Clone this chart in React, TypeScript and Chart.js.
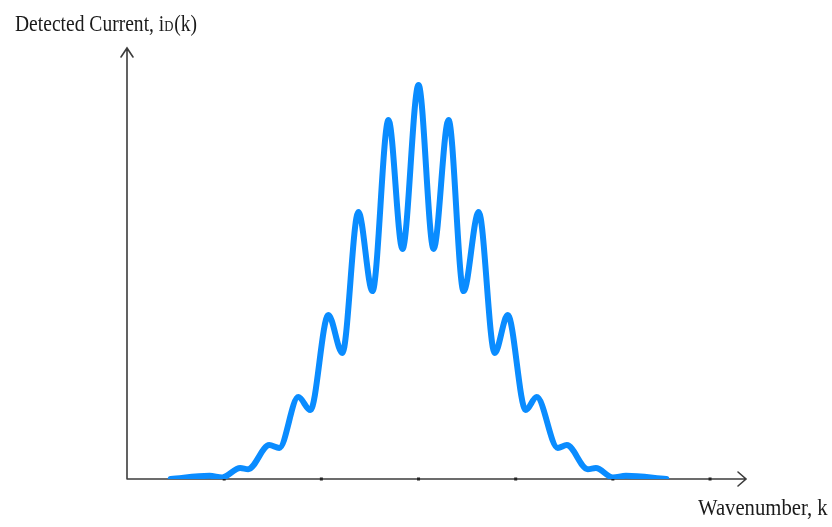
import React, { useEffect, useRef } from "react";
import { Chart, registerables } from "chart.js";

Chart.register(...registerables);

// Wavenumber positions (k) of the curve's turning points
const kValues = [
  0.45, 0.85, 0.98, 1.165, 1.247, 1.464, 1.567, 1.763, 1.887, 2.072, 2.216,
  2.381, 2.526, 2.691, 2.835, 3.0, 3.155, 3.309, 3.464, 3.619, 3.784, 3.918,
  4.103, 4.216, 4.433, 4.526, 4.742, 4.825, 5.0, 5.134, 5.55,
];
// Detected current (normalised) at those positions
const currentValues = [
  0.0, 0.008, 0.004, 0.028, 0.025, 0.086, 0.079, 0.208, 0.175, 0.416, 0.32,
  0.678, 0.477, 0.911, 0.584, 1.0, 0.584, 0.911, 0.477, 0.678, 0.32, 0.416,
  0.175, 0.208, 0.079, 0.086, 0.025, 0.028, 0.004, 0.008, 0.0,
];
// Tick positions on the wavenumber axis
const xTicks = [1, 2, 3, 4, 5, 6];

const yLabel = "Detected Current, i";
const ySub = "D";
const yLabelEnd = "(k)";
const xLabel = "Wavenumber, k";

const AXIS = "#3c3c3c";

const axesPlugin = {
  id: "arrowAxes",
  beforeDatasetsDraw(chart: any) {
    const { ctx, chartArea } = chart;
    const { left, right, top, bottom } = chartArea;
    ctx.save();
    ctx.strokeStyle = AXIS;
    ctx.lineWidth = 1.6;
    ctx.lineCap = "round";
    ctx.beginPath();
    ctx.moveTo(left, bottom);
    ctx.lineTo(left, top);
    ctx.moveTo(left, bottom);
    ctx.lineTo(right, bottom);
    // arrow heads
    ctx.moveTo(left - 6, top + 9);
    ctx.lineTo(left, top);
    ctx.lineTo(left + 6, top + 9);
    ctx.moveTo(right - 8, bottom - 7);
    ctx.lineTo(right, bottom);
    ctx.lineTo(right - 8, bottom + 7);
    ctx.stroke();
    ctx.fillStyle = "#222";
    const xs = chart.scales.x;
    xTicks.forEach((t) => {
      const px = xs.getPixelForValue(t);
      ctx.fillRect(px - 1.5, bottom - 1.5, 3, 3);
    });
    ctx.restore();
  },
  afterDraw(chart: any) {
    const { ctx } = chart;
    ctx.save();
    ctx.fillStyle = "#1a1a1a";
    ctx.textBaseline = "alphabetic";
    ctx.textAlign = "left";
    // y label
    ctx.translate(15, 31);
    ctx.scale(0.85, 1);
    ctx.font = "23px 'Liberation Serif', serif";
    ctx.fillText(yLabel, 0, 0);
    let w = ctx.measureText(yLabel).width;
    ctx.font = "15px 'Liberation Serif', serif";
    ctx.fillText(ySub, w, 0);
    w += ctx.measureText(ySub).width + 1;
    ctx.font = "23px 'Liberation Serif', serif";
    ctx.fillText(yLabelEnd, w, 0);
    ctx.restore();
    // x label
    ctx.save();
    ctx.fillStyle = "#1a1a1a";
    ctx.textAlign = "left";
    ctx.translate(698, 515);
    ctx.scale(0.9, 1);
    ctx.font = "23px 'Liberation Serif', serif";
    ctx.fillText(xLabel, 0, 0);
    ctx.restore();
  },
};

export default function App() {
  const ref = useRef<HTMLCanvasElement>(null);
  useEffect(() => {
    if (!ref.current) return;
    const data = kValues.map((k, i) => ({ x: k, y: currentValues[i] }));
    const chart = new Chart(ref.current, {
      type: "line",
      data: {
        datasets: [
          {
            data,
            borderColor: "#0A8CFF",
            borderWidth: 6,
            pointRadius: 0,
            fill: false,
            cubicInterpolationMode: "monotone",
            borderCapStyle: "round",
            borderJoinStyle: "round",
          },
        ],
      },
      options: {
        responsive: false,
        animation: false,
        devicePixelRatio: 1,
        layout: { padding: { left: 127, top: 48, right: 86, bottom: 48 } },
        plugins: { legend: { display: false }, tooltip: { enabled: false } },
        scales: {
          x: { type: "linear", min: 0, max: 6.37, display: false },
          y: { type: "linear", min: 0, max: 1.094, display: false },
        },
      },
      plugins: [axesPlugin],
    });
    return () => chart.destroy();
  }, []);
  return (
    <div style={{ position: "fixed", left: 0, top: 0, background: "#fff" }}>
      <canvas ref={ref} width={832} height={527} />
    </div>
  );
}
